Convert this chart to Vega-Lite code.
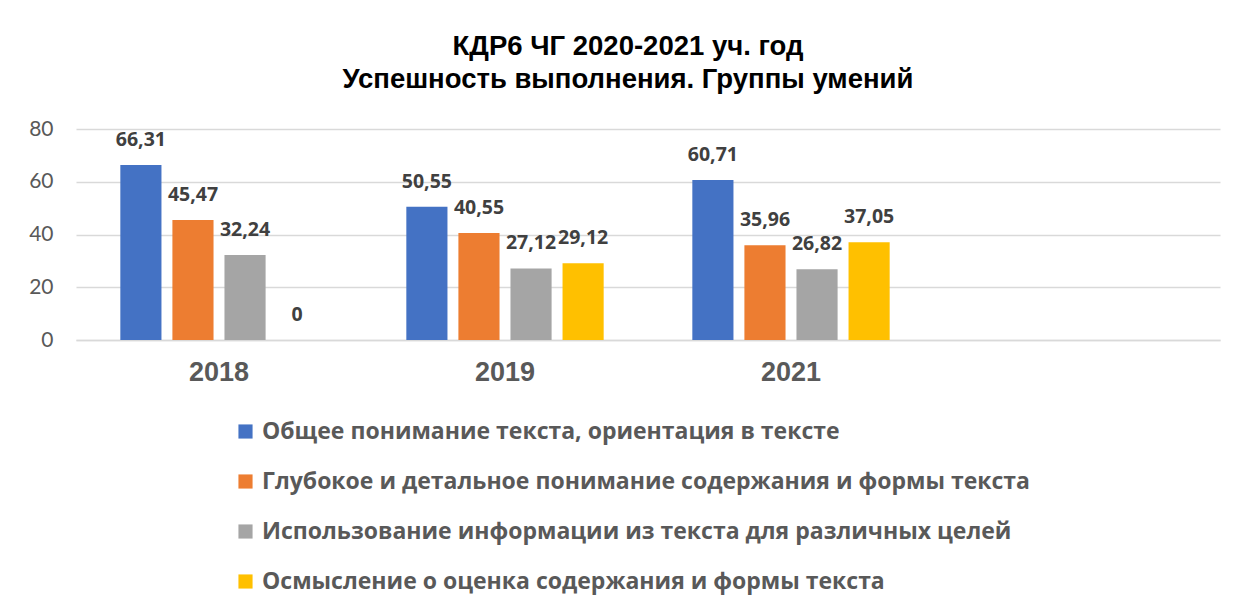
{
  "$schema": "https://vega.github.io/schema/vega-lite/v6.json",
  "autosize": {"type": "none"},
  "width": 1144,
  "height": 211,
  "padding": {"left": 76, "top": 129, "right": 20, "bottom": 270},
  "background": "white",
  "title": {
    "text": ["КДР6 ЧГ 2020-2021 уч. год", "Успешность выполнения. Группы умений"],
    "font": "Liberation Sans",
    "fontSize": 27.5,
    "fontWeight": "bold",
    "color": "#000000",
    "lineHeight": 33,
    "anchor": "middle",
    "dx": -20,
    "offset": 25
  },
  "config": {
    "locale": {"number": {"decimal": ",", "thousands": " ", "grouping": [3], "currency": ["", ""]}},
    "view": {"stroke": null}
  },
  "data": {
    "values": [
      {"year": "2018", "group": "Общее понимание текста, ориентация в тексте", "value": 66.31},
      {"year": "2018", "group": "Глубокое и детальное понимание содержания и формы текста", "value": 45.47},
      {"year": "2018", "group": "Использование информации из текста для различных целей", "value": 32.24},
      {"year": "2018", "group": "Осмысление о оценка содержания и формы текста", "value": 0},
      {"year": "2019", "group": "Общее понимание текста, ориентация в тексте", "value": 50.55},
      {"year": "2019", "group": "Глубокое и детальное понимание содержания и формы текста", "value": 40.55},
      {"year": "2019", "group": "Использование информации из текста для различных целей", "value": 27.12},
      {"year": "2019", "group": "Осмысление о оценка содержания и формы текста", "value": 29.12},
      {"year": "2021", "group": "Общее понимание текста, ориентация в тексте", "value": 60.71},
      {"year": "2021", "group": "Глубокое и детальное понимание содержания и формы текста", "value": 35.96},
      {"year": "2021", "group": "Использование информации из текста для различных целей", "value": 26.82},
      {"year": "2021", "group": "Осмысление о оценка содержания и формы текста", "value": 37.05}
    ]
  },
  "encoding": {
    "x": {
      "field": "year",
      "type": "nominal",
      "scale": {"domain": ["2018", "2019", "2021", " "], "paddingInner": 0.31, "paddingOuter": 0.155},
      "axis": {
        "title": null,
        "labelAngle": 0,
        "labelFont": "Liberation Sans",
        "labelFontSize": 27,
        "labelFontWeight": "bold",
        "labelColor": "#595959",
        "labelPadding": 19,
        "ticks": false,
        "domainColor": "#d9d9d9",
        "domainWidth": 1.5
      }
    },
    "xOffset": {
      "field": "group",
      "type": "nominal",
      "sort": null,
      "scale": {"paddingInner": 0.21, "paddingOuter": 0}
    },
    "y": {
      "field": "value",
      "type": "quantitative",
      "scale": {"domain": [0, 80], "nice": false},
      "axis": {
        "title": null,
        "values": [0, 20, 40, 60, 80],
        "labelFont": "Lato",
        "labelFontSize": 21,
        "labelColor": "#595959",
        "labelPadding": 23,
        "ticks": false,
        "domain": false,
        "gridColor": "#d9d9d9",
        "gridWidth": 1.5
      }
    }
  },
  "layer": [
    {
      "mark": {"type": "bar"},
      "encoding": {
        "color": {
          "field": "group",
          "type": "nominal",
          "sort": null,
          "scale": {
            "domain": [
              "Общее понимание текста, ориентация в тексте",
              "Глубокое и детальное понимание содержания и формы текста",
              "Использование информации из текста для различных целей",
              "Осмысление о оценка содержания и формы текста"
            ],
            "range": ["#4472C4", "#ED7D31", "#A5A5A5", "#FFC000"]
          },
          "legend": {
            "title": null,
            "orient": "none",
            "direction": "vertical",
            "legendX": 158,
            "legendY": 291,
            "symbolType": "square",
            "symbolSize": 200,
            "symbolStrokeWidth": 0,
            "labelFont": "Open Sans",
            "labelFontSize": 23,
            "labelFontWeight": "bold",
            "labelColor": "#595959",
            "labelOffset": 5,
            "labelLimit": 1000,
            "rowPadding": 26
          }
        }
      }
    },
    {
      "mark": {"type": "text", "dy": -25, "font": "Open Sans", "fontSize": 19.5, "fontWeight": "bold", "color": "#404040"},
      "encoding": {
        "text": {"field": "value", "type": "quantitative", "format": ".2~f"}
      }
    }
  ]
}
